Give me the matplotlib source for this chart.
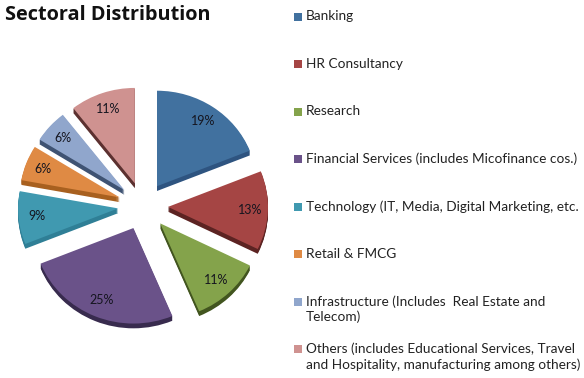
import matplotlib
matplotlib.use("Agg")
import matplotlib.pyplot as plt
from matplotlib.patches import Rectangle

plt.rcParams["font.family"] = ["Lato", "DejaVu Sans"]

# Data (labels are rounded, slice angles)
sectors = [
    "Banking",
    "HR Consultancy",
    "Research",
    "Financial Services (includes Micofinance cos.)",
    "Technology (IT, Media, Digital Marketing, etc.",
    "Retail & FMCG",
    "Infrastructure (Includes  Real Estate and\nTelecom)",
    "Others (includes Educational Services, Travel\nand Hospitality, manufacturing among others)",
]
shares = [19, 13.4, 11.4, 25.4, 9, 6, 5.6, 10.6]
colors = ["#41719f", "#a54544", "#84a34b", "#6a5289", "#4099b0", "#df8a44", "#90a6cc", "#cf9290"]
side_colors = ["#2e5480", "#5c2322", "#42551f", "#382b4e", "#2f7f96", "#a8601f", "#3f5373", "#5c3130"]
explode = [25] * len(shares)  # pie takes this in data units, here pixels

W, H = 584, 378
fig = plt.figure(figsize=(W / 100, H / 100), dpi=100)

# pie gets its own axes so it can be squashed a little (the original is tilted)
pie_ax = fig.add_axes([0, 0, 1, 1])
ax = fig.add_axes([0, 0, 1, 1])
ax.patch.set_alpha(0)

cx, cy = 143, H - 206
radius = 100
depth = 5
squash = 0.955

# extruded look: darker copies stacked below the top face
for d in range(depth, 0, -1):
    pie_ax.pie(shares, explode=explode, colors=side_colors, startangle=90, counterclock=False,
               radius=radius, center=(cx, cy - d), frame=True)

wedges, _, pct = pie_ax.pie(shares, explode=explode, colors=colors, startangle=90, counterclock=False,
                            radius=radius, center=(cx, cy), frame=True,
                            autopct="%.0f%%", pctdistance=0.82,
                            textprops={"fontsize": 9, "color": "#15151f"})

pie_ax.set_xlim(0, W)
pie_ax.set_ylim(cy - cy / squash, cy + (H - cy) / squash)
pie_ax.set_aspect("auto")
pie_ax.axis("off")

ax.set_xlim(0, W)
ax.set_ylim(0, H)
ax.axis("off")

ax.text(5, H - 14.5, "Sectoral Distribution", fontsize=14.3, fontweight="bold",
        color="#111111", ha="left", va="center", family=["Open Sans", "DejaVu Sans"])

# legend entries are evenly spaced by first line, so a normal legend will not fit
legend_y0, legend_step = 16.5, 47.5
for i, (name, col) in enumerate(zip(sectors, colors)):
    y = H - (legend_y0 + i * legend_step)
    ax.add_patch(Rectangle((294, y - 4), 8, 8, facecolor=col, edgecolor="none"))
    ax.text(306, y + 6.5, name, fontsize=9.8, color="#222222", ha="left", va="top",
            linespacing=1.32)

fig.savefig("out.png", dpi=100)
